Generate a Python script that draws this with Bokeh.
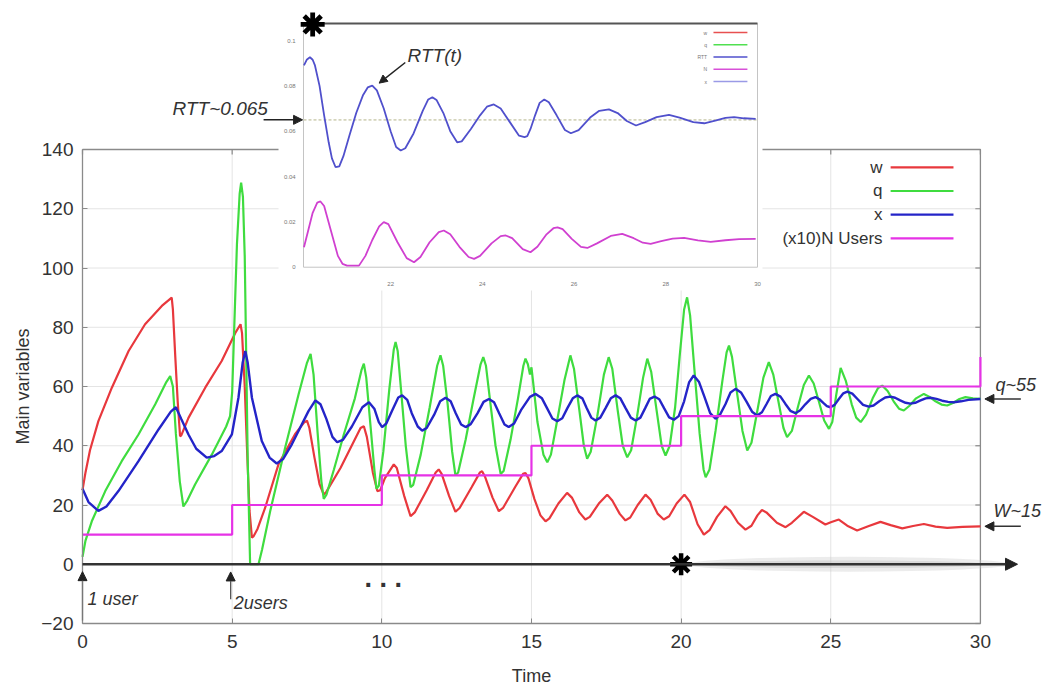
from bokeh.plotting import figure
from bokeh.models import Range1d, FixedTicker, Label, Arrow, NormalHead
from bokeh.core.properties import value
from bokeh.embed import file_html
from bokeh.resources import INLINE

# ---------------- main chart data ----------------
x_ticks = [0, 5, 10, 15, 20, 25, 30]
y_ticks = [-20, 0, 20, 40, 60, 80, 100, 120, 140]

w_t = [0.0, 0.1, 0.25, 0.53, 0.98, 1.54, 2.09, 2.65, 2.98, 3.02, 3.1, 3.18, 3.26, 3.3, 3.54, 4.1, 4.65,
       5.1, 5.28, 5.33, 5.42, 5.5, 5.58, 5.66, 5.72, 5.85, 6.1, 6.55, 7.1, 7.4, 7.5, 7.58, 7.75, 7.92,
       8.06, 8.15, 8.62, 9.29, 9.4, 9.5, 9.7, 9.85, 9.95, 10.1, 10.4, 10.5, 10.75, 10.96, 11.1, 11.5,
       11.8, 11.9, 12.0, 12.25, 12.46, 12.6, 13.0, 13.28, 13.35, 13.45, 13.7, 13.91, 14.05, 14.45,
       14.72, 14.8, 14.9, 15.1, 15.3, 15.47, 15.6, 15.9, 16.19, 16.35, 16.6, 16.8, 16.95, 17.25, 17.53,
       17.7, 17.95, 18.14, 18.3, 18.55, 18.81, 18.98, 19.22, 19.42, 19.6, 19.85, 20.11, 20.3, 20.55,
       20.76, 20.95, 21.2, 21.48, 21.65, 21.9, 22.15, 22.35, 22.55, 22.7, 22.85, 23.2, 23.49, 23.7,
       24.1, 24.4, 24.82, 25.0, 25.27, 25.55, 25.88, 26.25, 26.66, 27.0, 27.39, 27.75, 28.11, 28.5,
       28.89, 29.4, 30.0]
w_v = [25, 31, 38.5, 48.3, 59.6, 72, 81, 87.2, 90, 86, 70, 55, 43.2, 43.5, 49.4, 59.6, 68.6,
       78, 81, 78, 60, 38, 18, 9, 9.5, 12, 19, 33.8, 43.9, 47.8, 48.5, 46, 36, 27,
       23.5, 24.5, 32.5, 46, 46.6, 43, 31, 24.7, 25, 29, 33.7, 32.5, 23, 16.2, 17.5, 25,
       31, 32, 30.5, 23, 17.7, 19, 26, 31, 31.4, 29.5, 22.5, 17.9, 19, 26,
       30.5, 30.8, 29, 22, 16.5, 14.5, 15.5, 20.5, 24.1, 22.5, 17.5, 15.1, 16, 20.5, 23.5,
       21.5, 17, 14.8, 15.8, 20, 23.5, 21.8, 17, 15.1, 16.2, 20.5, 23.5, 21, 13.5,
       10, 11.5, 16, 19.6, 18, 14, 11.7, 13, 16.5, 18.3, 17.5, 14, 12.5, 14,
       17.7, 16, 13.4, 14.2, 15.1, 13, 11.4, 12.8, 14.3, 13.2, 12.1, 12.9, 13.6, 12.7,
       12.3, 12.6, 12.8]

q_t = [0.0, 0.1, 0.31, 0.76, 1.31, 1.87, 2.43, 2.8, 2.93, 3.02, 3.12, 3.25, 3.37, 3.5, 3.76, 4.32, 4.8,
       4.93, 5.0, 5.07, 5.16, 5.25, 5.3, 5.36, 5.42, 5.47, 5.52, 5.6, 5.88, 6.0, 6.27, 6.77, 7.22, 7.5,
       7.62, 7.72, 7.85, 7.98, 8.06, 8.15, 8.4, 8.73, 9.1, 9.32, 9.4, 9.48, 9.62, 9.75, 9.82, 9.9,
       10.05, 10.25, 10.4, 10.46, 10.53, 10.65, 10.8, 10.96, 11.05, 11.3, 11.6, 11.85, 11.96, 12.05,
       12.2, 12.35, 12.46, 12.55, 12.8, 13.05, 13.3, 13.39, 13.48, 13.62, 13.8, 13.97, 14.07, 14.3,
       14.55, 14.73, 14.8, 14.88, 14.95, 15.0, 15.05, 15.2, 15.4, 15.53, 15.65, 15.85, 16.1, 16.3,
       16.42, 16.6, 16.75, 16.86, 16.98, 17.2, 17.42, 17.58, 17.7, 17.88, 18.05, 18.2, 18.33, 18.53,
       18.73, 18.87, 19.0, 19.18, 19.35, 19.48, 19.62, 19.8, 19.95, 20.1, 20.2, 20.3, 20.45, 20.62,
       20.75, 20.82, 20.95, 21.15, 21.38, 21.52, 21.6, 21.7, 21.88, 22.05, 22.21, 22.35, 22.55, 22.75,
       22.93, 23.08, 23.25, 23.42, 23.54, 23.7, 23.9, 24.1, 24.27, 24.43, 24.6, 24.78, 24.94, 25.05,
       25.18, 25.33, 25.5, 25.7, 25.85, 26.0, 26.18, 26.4, 26.58, 26.72, 26.9, 27.1, 27.28, 27.44,
       27.63, 27.85, 28.11, 28.3, 28.5, 28.7, 28.89, 29.1, 29.3, 29.5, 29.75, 30.0]
q_v = [2.5, 8, 14.5, 24.7, 34.8, 43.8, 54, 61.5, 63.5, 60, 44, 28, 19.5, 21.5, 26.9, 37, 46.5,
       50, 58, 80, 108, 125, 128.8, 124, 104, 70, 35, 0, 0, 5, 17.9, 39.3, 57.4, 68,
       71, 64, 45, 28, 22.1, 23.5, 32, 43.8, 56, 65.5, 67.7, 63, 47, 32, 25.5, 26.5,
       38, 59, 72.5, 75, 72, 58, 40, 26, 26.8, 37, 53, 67, 70.5, 67,
       54, 38, 30, 31, 42, 55, 67.5, 69.9, 67, 55, 40, 30.5, 31.5, 42,
       56, 67, 69.4, 67.5, 64, 66.5, 62, 48, 37, 34.4, 37, 48, 62, 70.5,
       66, 52, 40, 35.6, 38, 50, 64, 69.9, 66, 52, 40, 36.1, 38.5, 50,
       63, 69.4, 65, 52, 40, 36.7, 40, 53, 70, 86, 90.1, 84, 65, 44,
       32, 29.4, 32, 45, 62, 71.5, 73.8, 70, 57, 45, 38.4, 41, 52, 63,
       68.2, 64, 55, 46, 42.9, 45, 53, 60.5, 63.7, 61, 55, 48.5, 45.7, 48,
       57, 66.3, 62, 54, 49.5, 48, 50.5, 56, 59.5, 60.3, 58.5, 55, 52.5, 51.9,
       53.5, 56, 57.5, 56.5, 55, 53.9, 53.6, 54.5, 55.8, 56.4, 56, 55.8]

x_t = [0.0, 0.2, 0.53, 0.8, 1.2, 1.87, 2.54, 2.95, 3.12, 3.3, 3.54, 3.8, 4.15, 4.4, 4.65, 4.99, 5.21,
       5.35, 5.44, 5.52, 5.66, 5.99, 6.25, 6.49, 6.7, 6.99, 7.55, 7.78, 7.95, 8.15, 8.35, 8.51, 8.7,
       9.0, 9.35, 9.57, 9.75, 9.9, 10.01, 10.15, 10.35, 10.55, 10.68, 10.85, 11.0, 11.2, 11.35, 11.5,
       11.75, 11.95, 12.13, 12.3, 12.47, 12.65, 12.8, 12.97, 13.2, 13.4, 13.58, 13.75, 13.92, 14.1,
       14.24, 14.42, 14.65, 14.95, 15.14, 15.35, 15.52, 15.7, 15.86, 16.03, 16.2, 16.38, 16.53, 16.7,
       16.84, 17.0, 17.14, 17.3, 17.48, 17.65, 17.81, 17.97, 18.14, 18.32, 18.48, 18.64, 18.8, 18.95,
       19.11, 19.27, 19.43, 19.6, 19.76, 19.92, 20.1, 20.27, 20.42, 20.6, 20.78, 20.97, 21.15, 21.3,
       21.48, 21.65, 21.82, 22.0, 22.18, 22.37, 22.54, 22.7, 22.85, 23.0, 23.15, 23.32, 23.48, 23.65,
       23.82, 23.98, 24.15, 24.33, 24.49, 24.62, 24.75, 24.87, 24.99, 25.13, 25.27, 25.42, 25.55,
       25.72, 25.9, 26.08, 26.27, 26.43, 26.62, 26.82, 26.99, 27.15, 27.32, 27.5, 27.66, 27.82, 28.0,
       28.17, 28.33, 28.53, 28.72, 28.92, 29.11, 29.35, 29.6, 30.0]
x_v = [25.5, 21, 18, 19.5, 24.7, 34.8, 45.5, 51.5, 53, 49, 43.8, 39, 36, 36.5, 38.2, 43.8, 56.2,
       68, 72, 68, 56.2, 41.6, 36, 34, 35.5, 40.4, 51.7, 55.3, 54, 49, 43, 41.2, 42,
       46.5, 53, 54.7, 52.5, 48, 46.3, 47.5, 52, 56.3, 57, 55.5, 51, 46.5, 45.1, 46,
       50.5, 55, 56.2, 55, 51, 47.2, 46.3, 47.3, 51, 54.8, 55.8, 54.7, 51, 47.2,
       46.3, 47.5, 52, 56.5, 57.5, 56, 52.7, 49.2, 48.3, 49.3, 52.7, 56, 57, 56,
       52.8, 49.5, 48.5, 49.5, 52.8, 56, 57, 56, 52.8, 49.5, 48.5, 49.5, 52.7, 55.8,
       56.6, 55.7, 52.7, 49.6, 48.8, 50, 55, 61.5, 63.7, 61.5, 56.5, 51, 49.1, 50.5,
       54, 58, 59.2, 58, 55, 51.5, 50.2, 51.3, 54, 56.8, 57.5, 56.6, 54.2, 51.8,
       51, 52, 54, 55.8, 56.4, 55.7, 54.5, 53.4, 53, 53.8, 55.8, 57.7, 58.3,
       57.6, 55.7, 53.8, 53.2, 53.6, 55, 56.3, 56.6, 56.2, 55.3, 54.5, 54.2, 54.5, 55.3,
       56, 56.2, 55.8, 55.2, 54.8, 54.7, 55, 55.5, 55.8]

n_t = [0, 5, 10, 15, 20, 25, 30]
n_users = [1, 2, 3, 4, 5, 6, 7]

series_names = ["w", "q", "x", "(x10)N Users"]
series_colors = ["#e8383d", "#3fdc3f", "#2424c8", "#e632e6"]

# ---------------- inset data (zoom from the * at t=20) ----------------
inset_x_ticks = [22, 24, 26, 28, 30]
inset_y_ticks = [0, 0.02, 0.04, 0.06, 0.08, 0.1]
rtt_t = [20.11, 20.17, 20.24, 20.3, 20.35, 20.45, 20.55, 20.65, 20.72, 20.8, 20.88, 20.97, 21.1, 21.25,
         21.4, 21.5, 21.6, 21.7, 21.85, 22.0, 22.12, 22.22, 22.32, 22.5, 22.7, 22.82, 22.91, 23.0,
         23.15, 23.3, 23.45, 23.55, 23.75, 23.95, 24.1, 24.25, 24.4, 24.6, 24.8, 24.92, 24.98, 25.05,
         25.15, 25.25, 25.35, 25.45, 25.62, 25.8, 25.93, 26.1, 26.35, 26.55, 26.76, 26.95, 27.15,
         27.35, 27.55, 27.8, 28.07, 28.3, 28.6, 28.84, 29.1, 29.3, 29.49, 29.7, 29.96]
rtt_v = [0.089, 0.0915, 0.0926, 0.0915, 0.089, 0.080, 0.067, 0.055, 0.048, 0.0441, 0.0445, 0.049,
         0.058, 0.068, 0.076, 0.0793, 0.0801, 0.078, 0.070, 0.060, 0.053, 0.0515, 0.0525, 0.059,
         0.069, 0.074, 0.075, 0.0738, 0.068, 0.060, 0.0551, 0.0555, 0.061, 0.067, 0.0708, 0.0718,
         0.070, 0.064, 0.058, 0.0574, 0.0578, 0.061, 0.067, 0.0725, 0.074, 0.0728, 0.067, 0.0605,
         0.0591, 0.0605, 0.066, 0.069, 0.0696, 0.068, 0.0645, 0.0625, 0.064, 0.0662, 0.0672, 0.066,
         0.064, 0.0635, 0.0648, 0.0659, 0.0662, 0.0657, 0.0654]
pink_t = [20.11, 20.2, 20.3, 20.4, 20.47, 20.55, 20.7, 20.85, 20.95, 21.05, 21.31, 21.45, 21.6, 21.75,
          21.85, 21.95, 22.15, 22.35, 22.51, 22.65, 22.85, 23.05, 23.16, 23.3, 23.5, 23.7, 23.82, 23.95,
          24.2, 24.4, 24.51, 24.65, 24.88, 25.05, 25.2, 25.4, 25.55, 25.64, 25.75, 25.95, 26.15, 26.29,
          26.5, 26.8, 27.05, 27.3, 27.5, 27.67, 27.9, 28.15, 28.4, 28.7, 28.98, 29.3, 29.6, 29.96]
pink_v = [0.0088, 0.016, 0.024, 0.0285, 0.029, 0.027, 0.016, 0.005, 0.0015, 0.0007, 0.0007, 0.005,
          0.012, 0.018, 0.0199, 0.019, 0.011, 0.004, 0.0022, 0.0045, 0.011, 0.0155, 0.0162, 0.0145,
          0.009, 0.0045, 0.0037, 0.005, 0.0105, 0.0137, 0.014, 0.0128, 0.008, 0.0066, 0.009, 0.0145,
          0.0172, 0.0176, 0.0168, 0.0125, 0.009, 0.0085, 0.0105, 0.0138, 0.0147, 0.0128, 0.0108,
          0.0103, 0.0115, 0.0126, 0.0129, 0.0118, 0.0112, 0.0119, 0.0124, 0.0125]
rtt_eq = 0.065
inset_names = ["w", "q", "RTT", "N", "x"]
inset_colors = ["#e85050", "#50e050", "#5050cc", "#d850d8", "#9a9ae6"]

FONT = "Liberation Sans"
TXT = "#333333"
AX = "#8a8a8a"
GRID = "#e4e4e4"

# the frame covers the whole canvas; axes are pinned at the data borders
p = figure(width=1051, height=689, x_range=Range1d(-2.740, 32.375), y_range=Range1d(-42.28, 190.30),
           output_backend="svg", toolbar_location=None,
           min_border_left=0, min_border_right=0, min_border_top=0, min_border_bottom=0)
p.outline_line_color = None
p.grid.visible = False

# inset ranges mapped onto the same frame
p.extra_x_ranges = {"ix": Range1d(13.4928, 36.411)}
p.extra_y_ranges = {"iy": Range1d(-0.18628, 0.11765)}

xa = p.xaxis[0]
ya = p.yaxis[0]
xa.fixed_location = y_ticks[0]
ya.fixed_location = x_ticks[0]
for ax in (xa, ya):
    ax.major_tick_in = 5
    ax.major_tick_out = 0
    ax.minor_tick_line_color = None
    ax.axis_line_color = AX
    ax.axis_line_width = 1.3
    ax.major_tick_line_color = AX
    ax.major_label_text_font = FONT
    ax.major_label_text_font_size = "19px"
    ax.major_label_text_color = TXT
    ax.axis_label_text_font = FONT
    ax.axis_label_text_font_size = "18px"
    ax.axis_label_text_font_style = "normal"
    ax.axis_label_text_color = TXT
xa.ticker = FixedTicker(ticks=x_ticks)
ya.ticker = FixedTicker(ticks=y_ticks)
xa.bounds = (x_ticks[0], x_ticks[-1])
ya.bounds = (y_ticks[0], y_ticks[-1])
ya.major_label_overrides = {-20: "\u221220"}
xa.major_label_standoff = 12
ya.major_label_standoff = 9
xa.axis_label = "Time"
xa.axis_label_standoff = 14
ya.axis_label = "Main variables"
ya.axis_label_standoff = 5

# grid lines limited to the plotting box
p.segment(x0=x_ticks, y0=[y_ticks[0]] * len(x_ticks), x1=x_ticks, y1=[y_ticks[-1]] * len(x_ticks),
          line_color=GRID, line_width=1)
p.segment(x0=[x_ticks[0]] * len(y_ticks), y0=y_ticks, x1=[x_ticks[-1]] * len(y_ticks), y1=y_ticks,
          line_color=GRID, line_width=1)

# top and right borders with inward ticks (glyphs, so that the inset covers them)
p.line([x_ticks[0], x_ticks[-1], x_ticks[-1]], [y_ticks[-1], y_ticks[-1], y_ticks[0]],
       line_color=AX, line_width=1.3)
p.segment(x0=x_ticks, y0=[y_ticks[-1]] * len(x_ticks), x1=x_ticks, y1=[y_ticks[-1] - 1.7] * len(x_ticks),
          line_color=AX, line_width=1.2)
p.segment(x0=[x_ticks[-1]] * len(y_ticks), y0=y_ticks, x1=[x_ticks[-1] - 0.17] * len(y_ticks), y1=y_ticks,
          line_color=AX, line_width=1.2)

# shading around the zero arrow (zoom region)
p.ellipse(x=[25.6], y=[0], width=[10.8], height=[5.0], fill_color="#c8c8c8", fill_alpha=0.35, line_color=None)
p.ellipse(x=[25.4], y=[0], width=[9.6], height=[2.6], fill_color="#b0b0b0", fill_alpha=0.3, line_color=None)

# main curves
p.line(w_t, w_v, line_color=series_colors[0], line_width=2.2)
p.line(q_t, q_v, line_color=series_colors[1], line_width=2.2)
p.line(x_t, x_v, line_color=series_colors[2], line_width=2.4)
p.step(n_t, [n * 10 for n in n_users], mode="after", line_color=series_colors[3], line_width=2.2)

# main legend (labels left, samples right)
leg_y = [134.0 - 8.0 * i for i in range(len(series_names))]
for name, col, yy in zip(series_names, series_colors, leg_y):
    p.line([27.0, 29.1], [yy, yy], line_color=col, line_width=2.2)
p.text(x=[26.73] * len(series_names), y=leg_y, text=series_names, text_align="right",
       text_baseline="middle", text_font=value(FONT), text_font_size="17px", text_color=TXT)

# star at t=20 on the time arrow
p.scatter([n_t[4]], [0], marker="asterisk", size=22, line_width=4.5, line_color="black")

# ---------------- inset ----------------
R = dict(x_range_name="ix", y_range_name="iy")
p.quad(left=[19.555], right=[30.109], bottom=[-0.0103], top=[0.1124], fill_color="white",
       line_color=None, **R)
ix0, ix1, iy0, iy1 = 20.1, 30.0, 0.0, 0.1075
p.line([ix0, ix0, ix1, ix1], [iy1, iy0, iy0, iy1], line_color="#c4c4c4", line_width=1, **R)
p.line([ix0, ix1], [iy1, iy1], line_color="#555555", line_width=2, **R)
p.line([ix0, ix1], [rtt_eq, rtt_eq], line_color="#d4d4bc", line_width=1.6, line_dash="3 2", **R)
p.line(rtt_t, rtt_v, line_color="#5050cc", line_width=1.8, **R)
p.line(pink_t, pink_v, line_color="#d040d0", line_width=1.8, **R)
p.text(x=[19.93] * len(inset_y_ticks), y=inset_y_ticks, text=[f"{v:g}" for v in inset_y_ticks],
       text_align="right", text_baseline="middle", text_font=value(FONT), text_font_size="6px",
       text_color="#777777", **R)
p.text(x=inset_x_ticks, y=[-0.0075] * len(inset_x_ticks), text=[str(v) for v in inset_x_ticks],
       text_align="center", text_baseline="middle", text_font=value(FONT), text_font_size="6px",
       text_color="#777777", **R)
ileg_y = [0.1035 - 0.0054 * i for i in range(len(inset_names))]
for col, yy in zip(inset_colors, ileg_y):
    p.line([29.04, 29.78], [yy, yy], line_color=col, line_width=1.5, **R)
p.text(x=[28.9] * len(inset_names), y=ileg_y, text=inset_names, text_align="right",
       text_baseline="middle", text_font=value(FONT), text_font_size="5px", text_color="#777777", **R)
p.scatter([20.3], [0.1071], marker="asterisk", size=24, line_width=4.8, line_color="black", **R)

p.add_layout(Label(x=22.37, y=0.0934, text="RTT(t)", text_font=FONT, text_font_size="19px",
                   text_font_style="italic", text_color=TXT, text_baseline="middle",
                   x_range_name="ix", y_range_name="iy"))
p.add_layout(Arrow(end=NormalHead(size=8, fill_color="#222222", line_color="#222222"),
                   x_start=22.32, y_start=0.0903, x_end=21.75, y_end=0.0812,
                   line_color="#222222", line_width=1.5, x_range_name="ix", y_range_name="iy"))
p.add_layout(Label(x=3.01, y=153.9, text="RTT~0.065", text_font=FONT, text_font_size="19px",
                   text_font_style="italic", text_color=TXT, text_baseline="middle"))
p.add_layout(Arrow(end=NormalHead(size=9, fill_color="#222222", line_color="#222222"),
                   x_start=19.23, y_start=rtt_eq, x_end=20.08, y_end=rtt_eq,
                   line_color="#222222", line_width=1.5, x_range_name="ix", y_range_name="iy"))

# ---------------- annotations ----------------
p.add_layout(Arrow(end=NormalHead(size=12, fill_color="#222222", line_color="#222222"),
                   x_start=0, y_start=0, x_end=31.24, y_end=0, line_color="#333333", line_width=2.5))
p.add_layout(Arrow(end=NormalHead(size=9, fill_color="#222222", line_color="#222222"),
                   x_start=n_t[0], y_start=-19, x_end=n_t[0], y_end=-2.5, line_color="#777777", line_width=1.3))
p.add_layout(Arrow(end=NormalHead(size=9, fill_color="#222222", line_color="#222222"),
                   x_start=4.95, y_start=-11.8, x_end=4.95, y_end=-2.6, line_color="#555555", line_width=1.3))
p.add_layout(Label(x=0.17, y=-11.6, text="1 user", text_font=FONT, text_font_size="18px",
                   text_font_style="italic", text_color=TXT, text_baseline="middle"))
p.add_layout(Label(x=5.05, y=-13.0, text="2users", text_font=FONT, text_font_size="18px",
                   text_font_style="italic", text_color=TXT, text_baseline="middle"))
p.add_layout(Label(x=10.05, y=-9.7, text=". . .", text_font=FONT, text_font_size="27px",
                   text_font_style="bold", text_color=TXT, text_align="center"))

p.add_layout(Label(x=30.5, y=60.4, text="q~55", text_font=FONT, text_font_size="18px",
                   text_font_style="italic", text_color=TXT, text_baseline="middle"))
p.add_layout(Arrow(end=NormalHead(size=9, fill_color="#222222", line_color="#222222"),
                   x_start=31.35, y_start=q_v[-1], x_end=30.15, y_end=q_v[-1],
                   line_color="#333333", line_width=1.5))
p.add_layout(Label(x=30.44, y=18.1, text="W~15", text_font=FONT, text_font_size="18px",
                   text_font_style="italic", text_color=TXT, text_baseline="middle"))
p.add_layout(Arrow(end=NormalHead(size=9, fill_color="#222222", line_color="#222222"),
                   x_start=31.35, y_start=w_v[-1], x_end=30.15, y_end=w_v[-1],
                   line_color="#333333", line_width=1.5))

open("out.html", "w").write(file_html(p, INLINE))
